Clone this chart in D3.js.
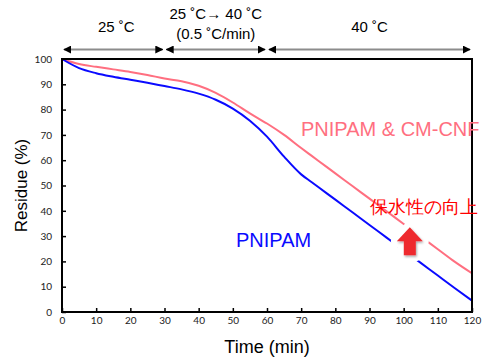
<!DOCTYPE html>
<html>
<head>
<meta charset="utf-8">
<script src="https://cdn.jsdelivr.net/npm/d3@7"></script>
<style>
  body { margin: 0; background: #fff; }
  text { font-family: "Liberation Sans", Arial, sans-serif; }
  .tick text { font-family: Lato, "Liberation Sans", sans-serif; font-size: 10px; fill: #222; }
</style>
</head>
<body>
<div id="chart"></div>
<script>
// Datos
const times = [0, 5, 10, 15, 20, 25, 30, 35, 40, 45, 50, 55, 60, 65, 70, 73, 75, 80, 85, 90, 95, 100, 105, 110, 115, 120];
const pnipam = [100, 96.4, 94.4, 93.0, 91.8, 90.6, 89.3, 88.0, 86.3, 83.9, 80.4, 75.6, 69.3, 61.4, 54.4, 51.4, 49.4, 44.4, 39.4, 34.4, 29.4, 24.4, 19.4, 14.4, 9.4, 4.5];
const pnipamCnf = [100, 98.0, 96.9, 95.9, 94.9, 93.7, 92.3, 91.2, 89.4, 86.6, 82.8, 78.5, 74.5, 70.0, 64.8, 61.8, 59.8, 54.8, 49.8, 44.8, 39.8, 34.8, 29.8, 24.8, 19.8, 15.3];
const xTicks = [0, 10, 20, 30, 40, 50, 60, 70, 80, 90, 100, 110, 120];
const yTicks = [0, 10, 20, 30, 40, 50, 60, 70, 80, 90, 100];
const periods = [
  { from: 0, to: 30, label: ["25 ˚C"] },
  { from: 30, to: 60, label: ["25 ˚C→ 40 ˚C", "(0.5 ˚C/min)"] },
  { from: 60, to: 120, label: ["40 ˚C"] },
];

const width = 486;
const height = 361;
const margin = { top: 59, right: 14, bottom: 49, left: 62 };

const svg = d3.select("div#chart").append("svg")
  .attr("width", width).attr("height", height);

const x = d3.scaleLinear().domain([0, 120]).range([margin.left, width - margin.right]);
const y = d3.scaleLinear().domain([0, 100]).range([height - margin.bottom, margin.top]);

// Ejes
const xAxis = d3.axisBottom(x).tickValues(xTicks).tickSize(-4).tickPadding(5);
const yAxis = d3.axisLeft(y).tickValues(yTicks).tickSize(-4).tickPadding(10);

svg.append("g")
  .attr("transform", `translate(0, ${y(0)})`)
  .call(xAxis)
  .call((g) => g.select(".domain").remove())
  .call((g) => g.selectAll(".tick line").attr("stroke", "#000").attr("stroke-width", 1.5));

svg.append("g")
  .attr("transform", `translate(${x(0)}, 0)`)
  .call(yAxis)
  .call((g) => g.select(".domain").remove())
  .call((g) => g.selectAll(".tick line").attr("stroke", "#000").attr("stroke-width", 1.5));

// Lineas
const line = (values) => d3.line()
  .x((d, i) => x(times[i]))
  .y((d) => y(d))
  .curve(d3.curveMonotoneX)(values);

svg.append("path").attr("d", line(pnipamCnf))
  .attr("fill", "none").attr("stroke", "#ff6f80").attr("stroke-width", 2);
svg.append("path").attr("d", line(pnipam))
  .attr("fill", "none").attr("stroke", "#0a0aff").attr("stroke-width", 2);

// Marco
svg.append("rect")
  .attr("x", x(0)).attr("y", y(100))
  .attr("width", x(120) - x(0)).attr("height", y(0) - y(100))
  .attr("fill", "none").attr("stroke", "#000").attr("stroke-width", 2);

// Flechas de los periodos
const defs = svg.append("defs");
["start", "end"].forEach((k) => {
  defs.append("marker")
    .attr("id", "arrow-" + k)
    .attr("viewBox", "0 0 10 10")
    .attr("refX", k === "end" ? 9 : 1).attr("refY", 5)
    .attr("markerWidth", 4).attr("markerHeight", 4)
    .attr("orient", "auto")
    .append("path")
    .attr("d", k === "end" ? "M0,0 L10,5 L0,10 Z" : "M10,0 L0,5 L10,10 Z")
    .attr("fill", "#000");
});
defs.append("filter").attr("id", "shadow")
  .append("feDropShadow").attr("dx", 1).attr("dy", 1.5).attr("stdDeviation", 1.2)
  .attr("flood-color", "#000").attr("flood-opacity", 0.35);

const periodGroup = svg.append("g");
periods.forEach((p) => {
  periodGroup.append("line")
    .attr("x1", x(p.from) + 2).attr("x2", x(p.to) - 2)
    .attr("y1", 49.5).attr("y2", 49.5)
    .attr("stroke", "#8c8c8c").attr("stroke-width", 2)
    .attr("marker-start", "url(#arrow-start)")
    .attr("marker-end", "url(#arrow-end)");
  const cx = (x(p.from) + x(p.to)) / 2 + (p.from === 0 ? 3 : 0);
  p.label.forEach((t, i) => {
    periodGroup.append("text")
      .attr("x", cx)
      .attr("y", p.label.length === 1 ? 32 : 19 + i * 20)
      .attr("text-anchor", "middle")
      .attr("font-size", 15)
      .attr("fill", "#000")
      .text(t);
  });
});

// Titulos de ejes
svg.append("text")
  .attr("x", (x(0) + x(120)) / 2).attr("y", 353)
  .attr("text-anchor", "middle").attr("font-size", 18)
  .text("Time (min)");
svg.append("text")
  .attr("transform", `translate(27, ${(y(0) + y(100)) / 2}) rotate(-90)`)
  .attr("text-anchor", "middle").attr("font-size", 17)
  .text("Residue (%)");

// Flecha roja (mejora)
const tip = { t: 101.8, v: 33.5 };
const tx = x(tip.t), ty = y(tip.v);
const arrowShape = [
  [tx, ty], [tx + 13, ty + 14], [tx + 6, ty + 14], [tx + 6, ty + 28],
  [tx - 6, ty + 28], [tx - 6, ty + 14], [tx - 13, ty + 14],
];
svg.append("polygon")
  .attr("points", arrowShape.map((p) => p.join(",")).join(" "))
  .attr("fill", "#fff").attr("stroke", "#fff").attr("stroke-width", 12)
  .attr("stroke-linejoin", "round");
svg.append("polygon")
  .attr("points", arrowShape.map((p) => p.join(",")).join(" "))
  .attr("fill", "#ee2b2f").attr("filter", "url(#shadow)");

// Etiquetas
svg.append("text")
  .attr("x", 301).attr("y", 136)
  .attr("font-size", 20).attr("fill", "#ff6f80")
  .text("PNIPAM & CM-CNF");
svg.append("text")
  .attr("x", 236).attr("y", 247)
  .attr("font-size", 20).attr("fill", "#0a0aff")
  .text("PNIPAM");
svg.append("text")
  .attr("x", 370).attr("y", 213)
  .attr("font-size", 18).attr("fill", "#ff0000")
  .attr("font-family", "'Noto Sans CJK JP', sans-serif")
  .text("保水性の向上");
</script>
</body>
</html>
